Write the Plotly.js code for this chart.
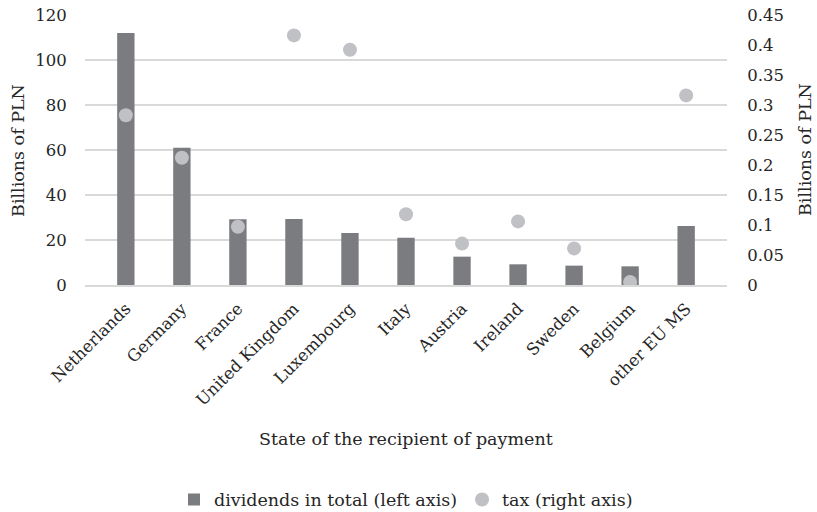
<!DOCTYPE html>
<html>
<head>
<meta charset="utf-8">
<script src="https://cdn.plot.ly/plotly-3.0.1.min.js"></script>
<style>
  html, body { margin: 0; padding: 0; background: #fff; }
  #chart { width: 817px; height: 512px; }
</style>
</head>
<body>
<div id="chart"></div>
<script>
// Recipient states of dividend payments
const states = ["Netherlands", "Germany", "France", "United Kingdom", "Luxembourg",
  "Italy", "Austria", "Ireland", "Sweden", "Belgium", "other EU MS"];

// Dividends in total, billions of PLN (left axis)
const dividends = [112, 61, 29.2, 29.3, 23.1, 21.0, 12.6, 9.2, 8.6, 8.3, 26.2];

// Tax withheld, billions of PLN (right axis)
const tax = [0.283, 0.212, 0.097, 0.416, 0.392, 0.118, 0.069, 0.106, 0.061, 0.005, 0.316];

const leftTicks = [0, 20, 40, 60, 80, 100, 120];
const rightTicks = [0, 0.05, 0.1, 0.15, 0.2, 0.25, 0.3, 0.35, 0.4, 0.45];

const FONT = "DejaVu Serif, Liberation Serif, serif";
const TEXT = "#262626";
const TICK_SIZE = 16.5;
const TITLE_SIZE = 17.5;

const traces = [
  {
    type: "bar",
    name: "dividends in total (left axis)",
    x: states,
    y: dividends,
    marker: { color: "#7b7c80" },
    yaxis: "y"
  },
  {
    type: "scatter",
    mode: "markers",
    name: "tax (right axis)",
    x: states,
    y: tax,
    marker: { color: "#c0c1c4", size: 14 },
    yaxis: "y2"
  }
];

const titleFont = { family: FONT, size: TITLE_SIZE, color: TEXT };

// Axis titles placed as paper-anchored annotations
const annotations = [
  {
    text: "State of the recipient of payment",
    xref: "paper", yref: "paper",
    x: 0.5, y: -0.570,
    xanchor: "center", yanchor: "middle",
    showarrow: false,
    font: titleFont
  },
  {
    text: "Billions of PLN",
    xref: "paper", yref: "paper",
    x: -0.1044, y: 0.5,
    xanchor: "center", yanchor: "middle",
    textangle: -90,
    showarrow: false,
    font: titleFont
  },
  {
    text: "Billions of PLN",
    xref: "paper", yref: "paper",
    x: 1.1215, y: 0.5,
    xanchor: "center", yanchor: "middle",
    textangle: -90,
    showarrow: false,
    font: titleFont
  }
];

const layout = {
  width: 817,
  height: 512,
  margin: { l: 85, r: 90, t: 15, b: 227, autoexpand: false },
  paper_bgcolor: "#fff",
  plot_bgcolor: "#fff",
  font: { family: FONT, size: TICK_SIZE, color: TEXT },
  bargap: 0.69,
  showlegend: true,
  legend: {
    orientation: "h",
    x: 0.5, xanchor: "center",
    y: -0.795, yanchor: "middle",
    font: titleFont,
    itemwidth: 30,
    traceorder: "normal"
  },
  annotations: annotations,
  xaxis: {
    type: "category",
    tickangle: -45,
    showgrid: false,
    showline: true,
    linecolor: "#d9d9d9",
    linewidth: 1.5,
    ticks: "outside",
    ticklen: 6,
    tickcolor: "rgba(0,0,0,0)",
    tickfont: { family: FONT, size: TICK_SIZE, color: TEXT },
    automargin: false
  },
  yaxis: {
    range: [0, 120],
    tickvals: leftTicks,
    ticktext: leftTicks.map(String),
    showgrid: true,
    gridcolor: "#d9d9d9",
    gridwidth: 1.5,
    zeroline: false,
    showline: false,
    ticks: "outside",
    ticklen: 14,
    tickcolor: "rgba(0,0,0,0)",
    tickfont: { family: FONT, size: TICK_SIZE, color: TEXT },
    automargin: false
  },
  yaxis2: {
    overlaying: "y",
    side: "right",
    range: [0, 0.45],
    tickvals: rightTicks,
    ticktext: rightTicks.map(String),
    showgrid: false,
    zeroline: false,
    showline: false,
    ticks: "outside",
    ticklen: 16,
    tickcolor: "rgba(0,0,0,0)",
    tickfont: { family: FONT, size: TICK_SIZE, color: TEXT },
    automargin: false
  }
};

Plotly.newPlot("chart", traces, layout, { displayModeBar: false, staticPlot: true });
</script>
</body>
</html>
